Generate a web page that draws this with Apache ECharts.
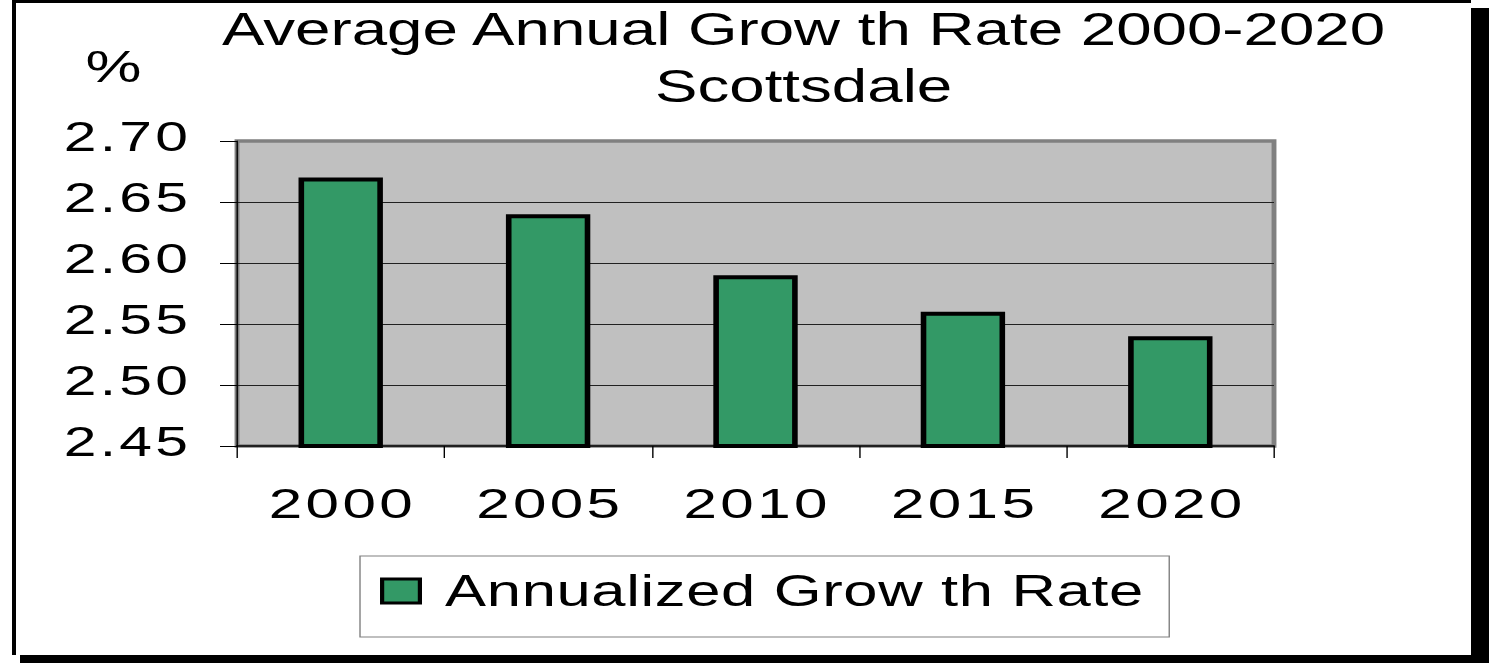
<!DOCTYPE html>
<html>
<head>
<meta charset="utf-8">
<script src="https://cdn.jsdelivr.net/npm/echarts@6/dist/echarts.min.js"></script>
<style>
  html, body { margin: 0; padding: 0; background: #fff; width: 1489px; height: 663px; overflow: hidden; }
  #shadow { position: absolute; left: 20px; top: 8px; width: 1469px; height: 655px; background: #000; }
  #frame { position: absolute; left: 12px; top: 0; width: 1459px; height: 655px; box-sizing: border-box;
           background: #fff; border-left: 4px solid #000; border-top: 3px solid #000; }
  /* the original picture is a horizontally stretched rendering; reproduce that stretch */
  #chart { position: absolute; left: 0; top: 0; width: 1064px; height: 663px;
           transform: scaleX(1.39944); transform-origin: 0 0; }
  #chart text[style*="42px"] { letter-spacing: 2.3px; }
  #chart text[style*="43px"] { letter-spacing: 2.4px; }
  #chart text[style*="44px"] { letter-spacing: 0.45px; }
</style>
</head>
<body>
<div id="shadow"></div>
<div id="frame"></div>
<div id="chart"></div>
<script>
// ---- data ----
const titleLines = ['Average Annual Grow th Rate 2000-2020', 'Scottsdale'];
const unitLabel = '%';
const seriesName = 'Annualized Grow th Rate';
const categories = ['2000', '2005', '2010', '2015', '2020'];
const growthRate = [2.67, 2.64, 2.59, 2.56, 2.54];
const yMin = 2.45, yMax = 2.70, yStep = 0.05;

const FONT = '"Liberation Sans", Arial, sans-serif';
const chart = echarts.init(document.getElementById('chart'), null, { renderer: 'svg' });

chart.setOption({
  backgroundColor: 'transparent',
  animation: false,
  title: [
    { text: titleLines[0], left: 574.2, top: 6, textAlign: 'center', padding: 0,
      textStyle: { fontFamily: FONT, fontSize: 45.5, fontWeight: 'normal', color: '#000' } },
    { text: titleLines[1], left: 574.2, top: 63, textAlign: 'center', padding: 0,
      textStyle: { fontFamily: FONT, fontSize: 45.5, fontWeight: 'normal', color: '#000' } }
  ],
  legend: {
    show: true,
    left: 257.25, top: 556,
    orient: 'horizontal',
    padding: [13, 28.3, 24, 14.3],
    borderColor: '#808080', borderWidth: 1, borderRadius: 0,
    backgroundColor: 'transparent',
    itemWidth: 27, itemHeight: 24,
    icon: 'rect',
    itemStyle: { color: '#339966', borderColor: '#000', borderWidth: 3 },
    textStyle: { fontFamily: FONT, fontSize: 44, color: '#000', padding: [0, 0, 0, 13] },
    data: [seriesName]
  },
  grid: {
    left: 169.36, right: 153.63, top: 141, bottom: 217,
    containLabel: false,
    outerBoundsMode: 'none',
    show: true, backgroundColor: '#C0C0C0', borderColor: '#808080', borderWidth: 3.5
  },
  xAxis: {
    type: 'category',
    data: categories,
    boundaryGap: true,
    axisLine: { show: true, lineStyle: { color: '#000', width: 1.5 } },
    axisTick: { show: true, inside: false, length: 12, alignWithLabel: false, lineStyle: { color: '#000', width: 1 } },
    axisLabel: { show: true, margin: 36, fontFamily: FONT, fontSize: 43, color: '#000', padding: [0, 0, 0, 2.4] },
    splitLine: { show: false }
  },
  yAxis: {
    type: 'value',
    min: yMin, max: yMax, interval: yStep,
    name: unitLabel,
    nameLocation: 'end',
    nameGap: 75,
    nameTextStyle: { fontFamily: FONT, fontSize: 45, color: '#000', align: 'center', verticalAlign: 'middle', padding: [0, 176.5, 0, 0] },
    axisLine: { show: true, lineStyle: { color: '#000', width: 1 } },
    axisTick: { show: true, inside: false, length: 12.15, lineStyle: { color: '#000', width: 1 } },
    axisLabel: {
      show: true, margin: 32.8, fontFamily: FONT, fontSize: 42, color: '#000',
      verticalAlign: 'bottom', lineHeight: 8,
      formatter: v => v.toFixed(2)
    },
    splitLine: { show: true, showMinLine: false, showMaxLine: false, lineStyle: { color: '#202020', width: 1 } }
  },
  series: [{
    name: seriesName,
    type: 'bar',
    data: growthRate,
    barWidth: 60.3,
    itemStyle: { color: '#339966', borderColor: '#000', borderWidth: 4 },
    emphasis: { disabled: true }
  }]
});
</script>
</body>
</html>
